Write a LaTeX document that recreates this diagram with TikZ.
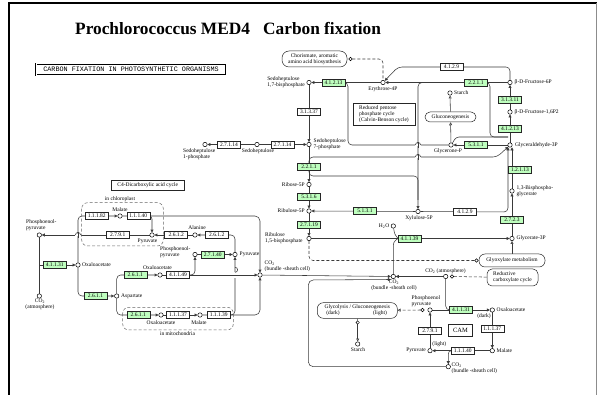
\documentclass[tikz,border=0pt]{standalone}
\usepackage{fontspec}
\setmainfont{Liberation Serif}
\newfontfamily\hdrfont{Liberation Mono}
\usetikzlibrary{arrows.meta}
\definecolor{kgreen}{HTML}{BFFFBF}
\definecolor{lncol}{HTML}{3A3A3A}
\pgfdeclarelayer{bg}
\pgfsetlayers{bg,main}
\newcommand\fs{\fontsize{5.5}{6}\selectfont}
% horizontal line hopping over a vertical one at (#1,#2)
\newcommand\hhop[2]{%
  \fill[white] ({#1-2.7},{#2-0.7}) rectangle ({#1+2.7},{#2+0.7});
  \draw[ln] (#1,{#2-3}) -- (#1,{#2+3});
  \draw[ln] ({#1-2.6},#2) arc[start angle=180,end angle=360,radius=2.6];}
% vertical line hopping over a horizontal one at (#1,#2)
\newcommand\vhop[2]{%
  \fill[white] ({#1-0.7},{#2-2.7}) rectangle ({#1+0.7},{#2+2.7});
  \draw[ln] ({#1-3},#2) -- ({#1+3},#2);
  \draw[ln] (#1,{#2-2.6}) arc[start angle=90,end angle=-90,radius=2.6];}
\begin{document}
\begin{tikzpicture}[x=1pt,y=-1pt,
 enz/.style={draw=black!85, fill=white, font=\fs, inner sep=0pt, minimum width=23pt, minimum height=7pt, line width=0.5pt},
 genz/.style={enz, fill=kgreen},
 cpd/.style={circle, draw=black, fill=white, inner sep=0pt, minimum size=4.4pt, line width=0.5pt},
 sc/.style={circle, draw=black, fill=white, inner sep=0pt, minimum size=3.4pt, line width=0.45pt},
 lbl/.style={font=\fs, inner sep=0pt, align=left},
 clbl/.style={font=\fs, inner sep=0pt, align=center},
 mapbox/.style={draw=black!85, fill=white, font=\fs, align=center, inner sep=0pt, line width=0.5pt},
 ln/.style={draw=lncol, line width=0.55pt},
 arr/.style={-{Triangle[length=3pt,width=3pt]}},
 oarr/.style={-{Triangle[open,length=3pt,width=3pt]}},
 dsh/.style={dash pattern=on 3pt off 2pt},
 zone/.style={draw=black!60, dash pattern=on 3pt off 2pt, rounded corners=6pt, line width=0.5pt},
 ttl/.style={anchor=base west, font=\fontsize{17.3}{19}\selectfont\bfseries, inner sep=0pt},
]
\useasboundingbox (0,0) rectangle (598,395);
% frame
\draw[line width=2.3pt] (8.8,395) -- (8.8,2.8) -- (597,2.8);
\draw[black!45, line width=0.8pt] (596.6,2.8) -- (596.6,395);
% title
\node[ttl] (t1) at (75,35) {Prochlorococcus MED4};
\node[ttl] (t2) at (263,35) {Carbon fixation};
\node[draw, double, line width=0.6pt, double distance=0.9pt, font=\hdrfont\fontsize{6.8}{7}\selectfont, minimum width=190pt, minimum height=11.5pt, inner sep=0pt] (hdr) at (131,69.5) {CARBON FIXATION IN PHOTOSYNTHETIC ORGANISMS};

% ===== Calvin cycle nodes =====
\node[mapbox, rounded corners=7pt, minimum width=65pt, minimum height=16pt] (cho) at (314.5,59) {Chorismate, aromatic\\amino acid biosynthesis};
\node[sc] (choc) at (350.5,59) {};
\node[cpd] (e4p) at (383,82.5) {};
\node[clbl, anchor=north] at (383,86.5) {Erythrose-4P};
\node[cpd] (s17) at (309,82.5) {};
\node[lbl, anchor=east] at (305,82.5) {Sedoheptulose\\1,7-bisphosphate};
\node[genz] (e41213u) at (333.5,82.5) {4.1.2.13};
\node[enz] (e31337) at (309,111.5) {3.1.3.37};
\node[cpd] (s7p) at (309,144.5) {};
\node[lbl, anchor=west] at (313.5,144) {Sedoheptulose\\7-phosphate};
\node[enz] (e27114b) at (282.5,144.5) {2.7.1.14};
\node[cpd] (sed) at (257,144.5) {};
\node[clbl, anchor=north] at (258,148.5) {Sedoheptulose};
\node[enz] (e27114a) at (229,144.5) {2.7.1.14};
\node[cpd] (s1p) at (205,144.5) {};
\node[lbl, anchor=north west] at (183,148.5) {Sedoheptulose\\1-phosphate};
\node[genz] (e2211u) at (476,82.5) {2.2.1.1};
\node[cpd] (f6p) at (510,82.5) {};
\node[lbl, anchor=west] at (514.5,82.5) {β-D-Fructose-6P};
\node[enz] (e4129u) at (451.5,67) {4.1.2.9};
\node[genz] (e31311) at (510,100) {3.1.3.11};
\node[cpd] (f16) at (510,112) {};
\node[lbl, anchor=west] at (514.5,112) {β-D-Fructose-1,6P2};
\node[genz] (e41213l) at (510,129) {4.1.2.13};
\node[cpd] (gap) at (510,145) {};
\node[lbl, anchor=west] at (515,145) {Glyceraldehyde-3P};
\node[mapbox, align=left, minimum width=62pt, minimum height=22pt] (calv) at (384,114) {Reduced pentose\\phosphate cycle\\(Calvin-Benson cycle)};
\node[cpd] (starch1) at (450,93) {};
\node[lbl, anchor=west] at (454,93) {Starch};
\node[mapbox, rounded corners=5pt, minimum width=51pt, minimum height=10pt] (gneo) at (450.5,117) {Gluconeogenesis};
\node[cpd] (gly) at (451,145) {};
\node[clbl, anchor=north] at (448,148.5) {Glycerone-P};
\node[genz] (e5311) at (476,145) {5.3.1.1};
\node[genz] (e2211l) at (309,166.5) {2.2.1.1};
\node[cpd] (r5p) at (309,184.5) {};
\node[lbl, anchor=east] at (305,184.5) {Ribose-5P};
\node[genz] (e5316) at (309,196.5) {5.3.1.6};
\node[cpd] (ru5p) at (309,211) {};
\node[lbl, anchor=east] at (305,211) {Ribulose-5P};
\node[genz] (e5131) at (365,211) {5.1.3.1};
\node[cpd] (x5p) at (418,211.5) {};
\node[clbl, anchor=north] at (419,215) {Xylulose-5P};
\node[enz] (e4129l) at (465,212) {4.1.2.9};
\node[genz] (e12113) at (520,170) {1.2.1.13};
\node[cpd] (bpg) at (512,191) {};
\node[lbl, anchor=west] at (516.5,191.5) {1,3-Bisphospho-\\glycerate};
\node[genz] (e2723) at (512,220) {2.7.2.3};
\node[cpd] (g3p) at (512,238.5) {};
\node[lbl, anchor=west] at (516.5,238.5) {Glycerate-3P};
\node[mapbox, rounded corners=6pt, minimum width=66pt, minimum height=13pt] (glyox) at (512,260.5) {Glyoxylate metabolism};
\node[sc] (glyoxc) at (476.5,260.5) {};
\node[genz] (e2719) at (309,224.5) {2.7.1.19};
\node[cpd] (rubp) at (309,238.5) {};
\node[lbl, anchor=west] at (265,238.5) {Ribulose\\1,5-bisphosphate};
\node[genz] (e41139) at (409.5,238.5) {4.1.1.39};
\node[cpd] (h2o) at (393.3,226) {};
\node[lbl, anchor=east] at (389.5,226) {H\textsubscript{2}O};
\node[cpd] (co2b) at (393.3,276.5) {};
\node[clbl, anchor=north] at (394,280) {CO\textsubscript{2}\\(bundle -sheath cell)};
\node[cpd] (co2a) at (445.7,276.5) {};
\node[clbl, anchor=south] at (445.5,273.5) {CO\textsubscript{2} (atmosphere)};
\node[sc] (co2ac) at (452,276.5) {};
\node[mapbox, align=left, rounded corners=5pt, minimum width=51pt, minimum height=17pt] (redc) at (512.5,277.5) {Reductive\\carboxylate cycle};

% ===== CAM =====
\node[mapbox, rounded corners=6pt, minimum width=80pt, minimum height=15.6pt] (glyc) at (357.3,310.5) {};
\node[clbl] at (357.3,306.8) {Glycolysis / Gluconeogenesis};
\node[clbl] at (333,313.2) {(dark)};
\node[clbl] at (380,313.2) {(light)};
\node[cpd] (pepc) at (430,310) {};
\node[sc] (pepcc) at (422.5,310) {};
\node[lbl, anchor=west] at (411.5,301.3) {Phosphoenol\\pyruvate};
\node[genz] (e41131c) at (461,310) {4.1.1.31};
\node[cpd] (oaac) at (492.3,310) {};
\node[lbl, anchor=west] at (496.5,310) {Oxaloacetate};
\node[clbl] at (484,316.5) {(dark)};
\node[enz] (e2791c) at (430,330.7) {2.7.9.1};
\node[mapbox, minimum width=24.4pt, minimum height=12.4pt, font=\fontsize{6.5}{7}\selectfont] (cam) at (460.5,330.5) {CAM};
\node[enz] (e11137c) at (492.3,329.2) {1.1.1.37};
\node[cpd] (malc) at (492.3,350.7) {};
\node[lbl, anchor=west] at (496.5,350.7) {Malate};
\node[enz] (e11140c) at (462.8,350.7) {1.1.1.40};
\node[cpd] (pyrc) at (430,350.7) {};
\node[lbl, anchor=east] at (426,350.7) {Pyruvate};
\node[clbl] at (439.3,344.3) {(light)};
\node[cpd] (co2bb) at (448.3,366.7) {};
\node[lbl, anchor=west] at (451.5,367.8) {CO\textsubscript{2}\\(bundle -sheath cell)};
\node[cpd] (starch2) at (357.7,344) {};
\node[clbl, anchor=north] at (358,347.5) {Starch};
\node[sc] (stc) at (357.7,322.5) {};

% ===== C4 =====
\node[mapbox, minimum width=73.3pt, minimum height=10.7pt] (c4box) at (147.7,185.3) {C4-Dicarboxylic acid cycle};
\node[clbl] at (120,199) {in chloroplast};
\draw[zone] (81.7,202.7) rectangle (163.3,246);
\node[enz] (e11182) at (96.7,216) {1.1.1.82};
\node[cpd] (malch) at (120,216) {};
\node[clbl] at (120,209.5) {Malate};
\node[enz] (e11140) at (138.3,216) {1.1.1.40};
\node[cpd] (pyrch) at (152,235) {};
\node[clbl] at (147.5,240.8) {Pyruvate};
\node[enz] (e2791) at (117.7,235) {2.7.9.1};
\node[cpd] (pepm) at (39.3,235) {};
\node[lbl, anchor=west] at (26,225) {Phosphoenol-\\pyruvate};
\node[genz] (e41131) at (54.7,265) {4.1.1.31};
\node[cpd] (oaam) at (78,265) {};
\node[lbl, anchor=west] at (82,265) {Oxaloacetate};
\node[cpd] (co2atm) at (39.3,296) {};
\node[clbl, anchor=north] at (40,298.5) {CO\textsubscript{2}\\(atmosphere)};
\node[enz] (e2612a) at (176.2,235) {2.6.1.2};
\node[cpd] (ala) at (195,235) {};
\node[clbl] at (197,228) {Alanine};
\node[enz] (e2612b) at (216.7,235) {2.6.1.2};
\node[cpd] (pyrb) at (235,254.5) {};
\node[lbl, anchor=west] at (239.5,254.5) {Pyruvate};
\node[genz] (e27140) at (212.8,254.5) {2.7.1.40};
\node[cpd] (pepb) at (195,254.5) {};
\node[lbl, anchor=west] at (160,252.5) {Phosphoenol-\\pyruvate};
\node[genz] (e2611a) at (95.5,296) {2.6.1.1};
\node[cpd] (asp) at (116.7,296) {};
\node[lbl, anchor=west] at (121,296) {Aspartate};
\node[genz] (e2611b) at (135.3,275) {2.6.1.1};
\node[cpd] (oaab) at (160,275) {};
\node[clbl] at (157.5,267.5) {Oxaloacetate};
\node[enz] (e41149) at (178,275) {4.1.1.49};
\node[cpd] (co2c4) at (260,275) {};
\node[lbl, anchor=west] at (264.5,266.5) {CO\textsubscript{2}\\(bundle -sheath cell)};
\draw[zone] (122.7,307.3) rectangle (233.3,330);
\node[clbl] at (177.5,333.5) {in mitochondria};
\node[genz] (e2611c) at (138.3,315) {2.6.1.1};
\node[cpd] (oaamt) at (161,315) {};
\node[clbl] at (161,322.7) {Oxaloacetate};
\node[enz] (e11137) at (178,315) {1.1.1.37};
\node[cpd] (malmt) at (200,315) {};
\node[clbl] at (199,322.7) {Malate};
\node[enz] (e11139) at (218.8,315) {1.1.1.39};

\begin{pgfonlayer}{bg}
% Calvin
\draw[ln,arr] (f6p) -- (e4p);
\draw[ln,arr,rounded corners=4pt] (f6p.north) -- (510,67) -- (398,67) -- (e4p.north east);
\draw[ln,arr] (e4p) -- (s17);
\draw[ln,rounded corners=4pt] (344,82.5) -- (348,82.5) -- (348,145) -- (gly);
\draw[ln,dsh,rounded corners=4pt] (choc) -- (383,59) -- (e4p);
\draw[ln,arr] (s17) -- (s7p);
\draw[ln,arr] (sed) -- (s1p);
\draw[ln,arr] (sed) -- (s7p);
\draw[ln,arr] (s7p) -- (r5p);
\draw[ln,arr,rounded corners=4pt] (309,163) -- (309,157) -- (497,157) -- (gap.south west);
\draw[ln,rounded corners=4pt] (309,170) -- (309,176) -- (418,176) -- (418,200);
\draw[ln,arr,rounded corners=4pt] (428,82.5) -- (418,82.5) -- (x5p);
\draw[ln,rounded corners=4pt] (484,82.5) -- (490,82.5) -- (490,137) -- (508,137);
\draw[ln,arr] (f16) -- (f6p);
\draw[ln,arr] (gap) -- (f16);
\draw[ln,rounded corners=3pt] (452.5,143) -- (456,137) -- (508,137);
\draw[ln,arr] (gap) -- (gly);
\draw[ln,oarr] (gneo) -- (starch1);
\draw[ln,oarr] (gly) -- (gneo);
\draw[ln,arr,rounded corners=4pt] (x5p) -- (508,212) -- (508,147.3);
\draw[ln,arr] (512,188.8) -- (512,147.3);
\draw[ln,arr] (g3p) -- (bpg);
\draw[ln,arr] (rubp) -- (g3p);
\draw[ln] (h2o) .. controls (394.5,234) .. (398,238.5);
\draw[ln,rounded corners=3pt] (co2b) -- (393.3,242) -- (398,238.5);
\draw[ln,arr] (ru5p) -- (rubp);
\draw[ln,arr] (r5p) -- (ru5p);
\draw[ln,arr] (x5p) -- (ru5p);
\draw[ln,oarr] (glyox) -- (g3p);
\draw[ln,dsh,rounded corners=4pt] (rubp) -- (309,260.5) -- (glyoxc);
\draw[ln,arr] (co2a) -- (co2b);
\draw[ln,dsh] (redc) -- (co2ac);
\draw[ln,arr] (co2c4) -- (co2b);
\draw[ln,arr,rounded corners=5pt] (co2bb) -- (308.3,366.7) -- (308.3,280) -- (390.8,279.5);
% CAM
\draw[ln,rounded corners=4pt] (co2a) -- (445.7,310) -- (450,310);
\draw[ln,arr] (pepc) -- (oaac);
\draw[ln,arr] (oaac) -- (malc);
\draw[ln,arr] (malc) -- (pyrc);
\draw[ln,arr] (pyrc) -- (pepc);
\draw[ln,arr,rounded corners=3pt] (452,350.7) -- (448.3,350.7) -- (co2bb);
\draw[ln,dsh,oarr] (pepcc) -- (glyc);
\draw[ln,oarr] (stc) -- (starch2);
\draw[ln] (glyc) -- (stc);
% C4
\draw[ln,arr,rounded corners=4pt] (oaam) -- (78,216) -- (malch);
\draw[ln,arr,rounded corners=5pt] (malch) -- (260,216) -- (co2c4);
\draw[ln,arr,rounded corners=3pt] (148,216) -- (152,216) -- (pyrch);
\draw[ln,arr] (pyrch) -- (pepm);
\draw[ln,arr] (ala) -- (pyrch);
\draw[ln,arr,rounded corners=4pt] (pyrb) -- (235,235) -- (ala);
\draw[ln] (pepm) -- (co2atm);
\draw[ln,arr] (39.3,265) -- (oaam);
\draw[ln,arr,rounded corners=4pt] (oaam) -- (78,296) -- (asp);
\draw[ln,arr,rounded corners=4pt] (asp) -- (116.7,275) -- (oaab);
\draw[ln,arr] (oaab) -- (co2c4);
\draw[ln,arr,rounded corners=4pt] (188,275) -- (195,275) -- (pepb);
\draw[ln,arr] (pepb) -- (pyrb);
\draw[ln,arr,rounded corners=4pt] (asp) -- (116.7,315) -- (oaamt);
\draw[ln,arr] (oaamt) -- (malmt);
\draw[ln,arr,rounded corners=5pt] (malmt) -- (260,315) -- (co2c4);
\draw[ln,arr,rounded corners=4pt] (229,315) -- (235,315) -- (pyrb);
\end{pgfonlayer}
% line hops at crossings
\hhop{418}{145}
\hhop{418}{157}
\hhop{78}{235}
\vhop{235}{275}
\end{tikzpicture}
\end{document}
